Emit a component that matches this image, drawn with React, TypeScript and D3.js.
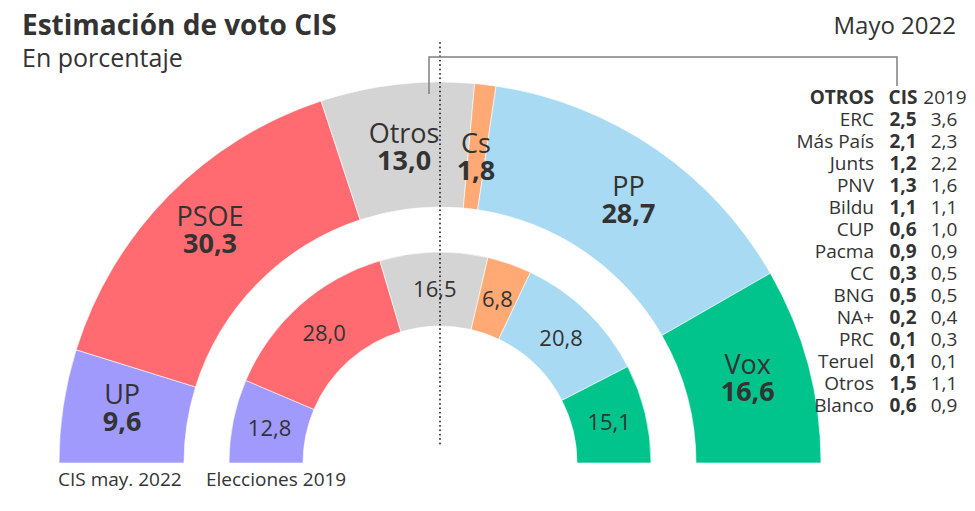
import React from "react";
import * as d3 from "d3";

const parties = ["UP", "PSOE", "Otros", "Cs", "PP", "Vox"];
const colors = ["#a09afc", "#ff6b70", "#d4d4d4", "#ffaa74", "#a8dbf3", "#00c48c"];
const cis2022 = [9.6, 30.3, 13.0, 1.8, 28.7, 16.6];
const elecciones2019 = [12.8, 28.0, 16.5, 6.8, 20.8, 15.1];

const otrosNames = ["ERC", "Más País", "Junts", "PNV", "Bildu", "CUP", "Pacma", "CC", "BNG", "NA+", "PRC", "Teruel", "Otros", "Blanco"];
const otrosCIS = [2.5, 2.1, 1.2, 1.3, 1.1, 0.6, 0.9, 0.3, 0.5, 0.2, 0.1, 0.1, 1.5, 0.6];
const otros2019 = [3.6, 2.3, 2.2, 1.6, 1.1, 1.0, 0.9, 0.5, 0.5, 0.4, 0.3, 0.1, 1.1, 0.9];

// label nudges (layout only) for the outer ring labels
const outerNudgeX = [-3, -3, 0, -2, 9, 0];
const outerNudgeY = [-7, -10, 0, 10, 0, -3];

const W = 975;
const H = 511;
const FONT = "'Open Sans', 'Noto Sans', sans-serif";
const TXT = "#333333";

const fmt = (v: number) => d3.format(".1f")(v).replace(".", ",");

export default function App() {
  const cx = 440;
  const cy = 463;
  const rings = [
    { values: cis2022, inner: 256, outer: 381, big: true },
    { values: elecciones2019, inner: 137, outer: 211, big: false },
  ];
  const pie = d3
    .pie<number>()
    .value((d) => d)
    .sort(null)
    .startAngle(-Math.PI / 2)
    .endAngle(Math.PI / 2);

  const rowY = d3.scaleLinear().domain([0, 1]).range([104, 126]);

  return (
    <svg
      width={W}
      height={H}
      viewBox={`0 0 ${W} ${H}`}
      style={{ position: "absolute", left: 0, top: 0, background: "#fff" }}
      fontFamily={FONT}
    >
      <text x={22} y={35} fontSize={28} fontWeight={700} fill={TXT}>
        Estimación de voto CIS
      </text>
      <text x={22} y={67} fontSize={25} fill={TXT}>
        En porcentaje
      </text>
      <text x={956} y={34} fontSize={24} fill={TXT} textAnchor="end">
        Mayo 2022
      </text>

      <g transform={`translate(${cx},${cy})`}>
        {rings.map((ring, ri) => {
          const arc = d3.arc<d3.PieArcDatum<number>>().innerRadius(ring.inner).outerRadius(ring.outer);
          const arcs = pie(ring.values);
          return (
            <g key={ri}>
              {arcs.map((a, i) => (
                <path key={i} d={arc(a) || ""} fill={colors[i]} stroke="#fff" strokeWidth={0.6} />
              ))}
              {arcs.map((a, i) => {
                const [lx0, ly0] = arc.centroid(a);
                if (ring.big) {
                  const lx = lx0 + outerNudgeX[i];
                  const ly = ly0 + outerNudgeY[i];
                  return (
                    <g key={"t" + i}>
                      <text x={lx} y={ly - 4} textAnchor="middle" fill={TXT} fontSize={27}>
                        {parties[i]}
                      </text>
                      <text x={lx} y={ly + 23} textAnchor="middle" fill={TXT} fontSize={27} fontWeight={700}>
                        {fmt(ring.values[i])}
                      </text>
                    </g>
                  );
                }
                return (
                  <text key={"t" + i} x={lx0} y={ly0 + 8} textAnchor="middle" fill={TXT} fontSize={22}>
                    {fmt(ring.values[i])}
                  </text>
                );
              })}
            </g>
          );
        })}
      </g>

      <line x1={cx} x2={cx} y1={43} y2={444} stroke="#222" strokeWidth={1.8} strokeDasharray="0.1 4.3" strokeLinecap="round" />

      <path d={`M${cx - 11},94 V57 H897 V86`} fill="none" stroke="#808080" strokeWidth={1.5} />

      <text x={cx - 382} y={486} fontSize={19} fill={TXT}>CIS may. 2022</text>
      <text x={cx - 234} y={486} fontSize={19} fill={TXT}>Elecciones 2019</text>

      <g fontSize={19} fill={TXT}>
        <text x={874} y={rowY(0)} textAnchor="end" fontWeight={700}>OTROS</text>
        <text x={903} y={rowY(0)} textAnchor="middle" fontWeight={700}>CIS</text>
        <text x={945} y={rowY(0)} textAnchor="middle">2019</text>
        {otrosNames.map((n, i) => (
          <g key={n}>
            <text x={874} y={rowY(i + 1)} textAnchor="end">{n}</text>
            <text x={903} y={rowY(i + 1)} textAnchor="middle" fontWeight={700}>{fmt(otrosCIS[i])}</text>
            <text x={944} y={rowY(i + 1)} textAnchor="middle">{fmt(otros2019[i])}</text>
          </g>
        ))}
      </g>
    </svg>
  );
}
